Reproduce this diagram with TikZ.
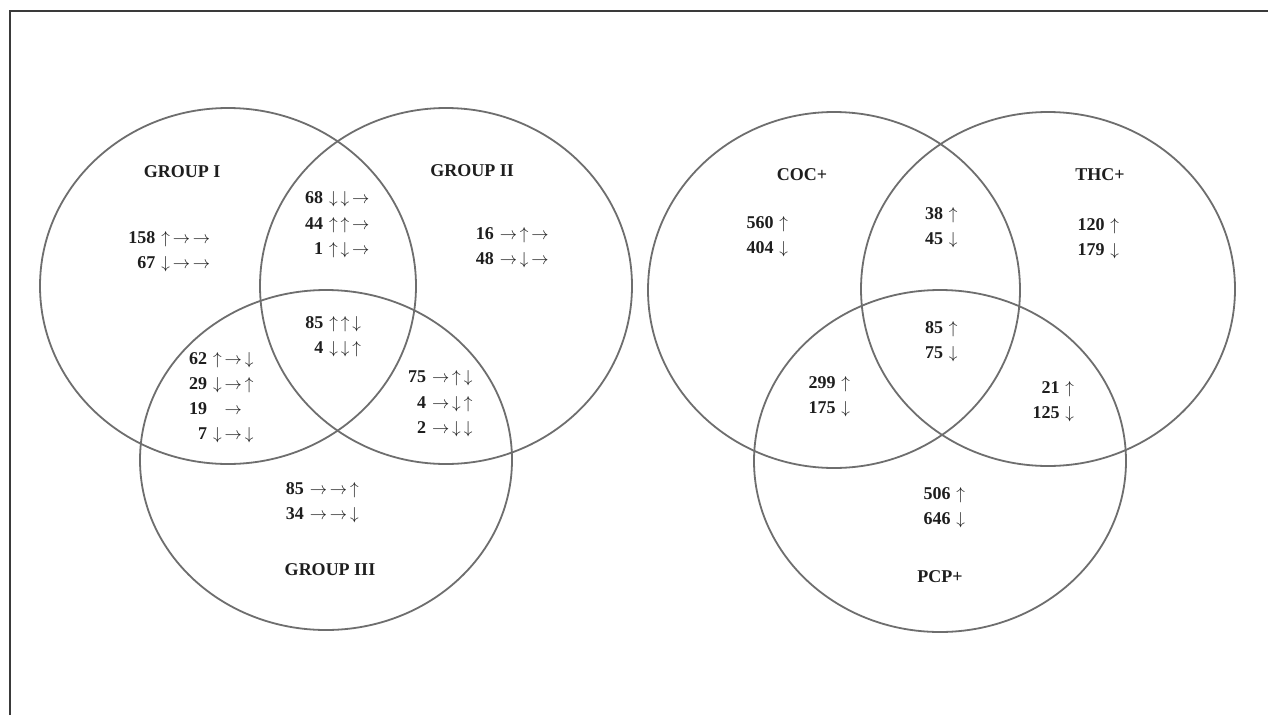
\documentclass[tikz,border=0pt]{standalone}
\usepackage{fontspec}
\setmainfont{Liberation Serif}
\newcommand\arU{$\mkern1.5mu\uparrow\mkern1.5mu$}
\newcommand\arD{$\mkern1.5mu\downarrow\mkern1.5mu$}
\newcommand\arR{$\mkern1.5mu\rightarrow\mkern1.5mu$}
\definecolor{circ}{HTML}{6E6E6E}
\definecolor{frm}{HTML}{3A3A3A}
\definecolor{txt}{HTML}{1E1E1E}
\tikzset{
  venn/.style={draw=circ, line width=1.8pt},
  lbl/.style={font=\fontsize{18}{21}\selectfont\bfseries, text=txt, inner sep=0pt},
}
\newcommand\blk[1]{{\renewcommand\arraystretch{1.2}\setlength\tabcolsep{0pt}\begin{tabular}{r@{\hspace{0.25em}}c}#1\end{tabular}}}
\begin{document}
\begin{tikzpicture}[x=1pt,y=-1pt]
\useasboundingbox (0,0) rectangle (1268,715);
\fill[white] (0,0) rectangle (1268,715);
% frame (top and left)
\draw[frm, line width=2.6pt] (10,715) -- (10,11) -- (1268,11);
% left Venn
\draw[venn] (228,286) ellipse [x radius=188, y radius=178];
\draw[venn] (446,286) ellipse [x radius=186, y radius=178];
\draw[venn] (326,460) ellipse [x radius=186, y radius=170];
% right Venn
\draw[venn] (834,290) ellipse [x radius=186, y radius=178];
\draw[venn] (1048,289) ellipse [x radius=187, y radius=177];
\draw[venn] (940,461) ellipse [x radius=186, y radius=171];
% left labels
\node[lbl] (g1) at (182,172) {GROUP I};
\node[lbl] (g2) at (472,171) {GROUP II};
\node[lbl] (g3) at (330,570) {GROUP III};
\node[lbl] (a1) at (170,251) {\blk{158 & \arU\arR\arR\\ 67 & \arD\arR\arR}};
\node[lbl] (a12) at (338,224) {\blk{68 & \arD\arD\arR\\ 44 & \arU\arU\arR\\ 1 & \arU\arD\arR}};
\node[lbl] (a2) at (513,247) {\blk{16 & \arR\arU\arR\\ 48 & \arR\arD\arR}};
\node[lbl] (a123) at (334,336) {\blk{85 & \arU\arU\arD\\ 4 & \arD\arD\arU}};
\node[lbl] (a13) at (222,397) {\blk{62 & \arU\arR\arD\\ 29 & \arD\arR\arU\\ 19 & \arR\\ 7 & \arD\arR\arD}};
\node[lbl] (a23) at (441,403) {\blk{75 & \arR\arU\arD\\ 4 & \arR\arD\arU\\ 2 & \arR\arD\arD}};
\node[lbl] (a3) at (323,502) {\blk{85 & \arR\arR\arU\\ 34 & \arR\arR\arD}};
% right labels
\node[lbl] (coc) at (802,175) {COC+};
\node[lbl] (thc) at (1100,175) {THC+};
\node[lbl] (pcp) at (940,577) {PCP+};
\node[lbl] (b1) at (768,236) {\blk{560 & \arU\\ 404 & \arD}};
\node[lbl] (b12) at (942,227) {\blk{38 & \arU\\ 45 & \arD}};
\node[lbl] (b2) at (1099,238) {\blk{120 & \arU\\ 179 & \arD}};
\node[lbl] (b123) at (942,341) {\blk{85 & \arU\\ 75 & \arD}};
\node[lbl] (b13) at (830,396) {\blk{299 & \arU\\ 175 & \arD}};
\node[lbl] (b23) at (1054,401) {\blk{21 & \arU\\ 125 & \arD}};
\node[lbl] (b3) at (945,507) {\blk{506 & \arU\\ 646 & \arD}};
\end{tikzpicture}
\end{document}
